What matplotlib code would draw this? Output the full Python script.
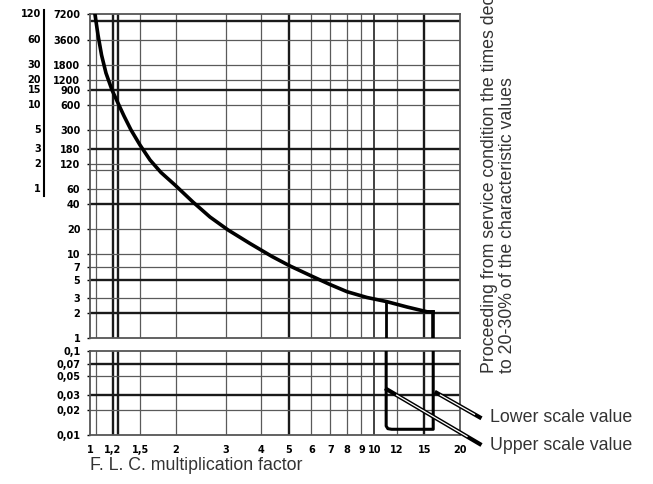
import numpy as np
import matplotlib
matplotlib.use("Agg")
import matplotlib.pyplot as plt

# multiplication factor ticks
x_ticks = [1, 1.2, 1.5, 2, 3, 4, 5, 6, 7, 8, 9, 10, 12, 15, 20]
x_tick_labels = ["1", "1,2", "1,5", "2", "3", "4", "5", "6", "7", "8", "9", "10", "12", "15", "20"]

# upper scale, seconds and minutes
sec_ticks = [7200, 3600, 1800, 1200, 900, 600, 300, 180, 120, 60, 40, 20, 10, 7, 5, 3, 2, 1]
min_ticks = [120, 60, 30, 20, 15, 10, 5, 3, 2, 1]
min_secs = [7200, 3600, 1800, 1200, 900, 600, 300, 180, 120, 60]

# lower scale
low_ticks = [0.1, 0.07, 0.05, 0.03, 0.02, 0.01]
low_tick_labels = ["0,1", "0,07", "0,05", "0,03", "0,02", "0,01"]

# grid lines
v_thin = [1.05, 1.5, 2, 3, 4, 6, 7, 8, 9, 12]
v_thick = [1.2, 1.25, 5, 15]
v_mid = [10]
h_up_thin = [3600, 1800, 1200, 600, 300, 120, 100, 60, 20, 10, 7, 3]
h_up_thick = [6000, 900, 180, 40, 5, 2]
h_low_thin = [0.05, 0.02]
h_low_thick = [0.07, 0.03]

# characteristic curve
curve_x = [1.041, 1.067, 1.098, 1.138, 1.195, 1.254, 1.317, 1.394, 1.499, 1.626,
           1.777, 1.99, 2.302, 2.642, 3.057, 3.652, 4.365, 5.05, 6.083, 6.98,
           8.01, 9.42, 11.07, 13.02, 15.31, 16.07]
curve_t = [7200, 4080, 2358, 1440, 904, 633, 443, 302, 200, 132.6,
           94.2, 66.8, 41.9, 27.8, 19.5, 13.45, 9.42, 7.26, 5.41, 4.37,
           3.59, 3.06, 2.73, 2.36, 2.07, 2.06]

# drop lines to the bottom of the upper scale
drop_x = [11.0, 16.1]
drop_t = [2.73, 2.06]
drop_w = [2.0, 2.6]

# lower scale path
low_x = [11.0, 11.0, 11.15, 11.5, 16.1, 16.1]
low_t = [0.1, 0.0128, 0.0119, 0.0117, 0.0117, 0.1]

# leader lines
lead_up_x = [10.9, 23.8]
lead_up_t = [0.036, 0.0076]
lead_lo_x = [16.3, 23.8]
lead_lo_t = [0.0327, 0.0158]

W, H = 653, 484
fig = plt.figure(figsize=(W / 100, H / 100), dpi=100)

def px_axes(x0, y0, x1, y1):
    return fig.add_axes([x0 / W, 1 - y1 / H, (x1 - x0) / W, (y1 - y0) / H])

ax = px_axes(90, 14.3, 460, 338.3)
ax2 = px_axes(90, 351, 460, 435)

grid_thin = dict(color="#5a5a5a", lw=0.9, zorder=1)
grid_thick = dict(color="#1a1a1a", lw=1.7, zorder=1)
grid_mid = dict(color="#333333", lw=1.3, zorder=1)

for a in (ax, ax2):
    a.set_xscale("log")
    a.set_yscale("log")
    a.set_xlim(1, 20)
    for v in v_thin:
        a.axvline(v, **grid_thin)
    for v in v_thick:
        a.axvline(v, **grid_thick)
    for v in v_mid:
        a.axvline(v, **grid_mid)
    for s in a.spines.values():
        s.set_color("#555555")
        s.set_linewidth(1.3)
    a.minorticks_off()
    a.tick_params(axis="y", length=2, width=1, pad=5, labelsize=7)
    a.tick_params(axis="x", length=0, pad=7, labelsize=7)

ax.set_ylim(1, 7200)
ax2.set_ylim(0.01, 0.1)

for h in h_up_thin:
    ax.axhline(h, **grid_thin)
for h in h_up_thick:
    ax.axhline(h, **grid_thick)
for h in h_low_thin:
    ax2.axhline(h, **grid_thin)
for h in h_low_thick:
    ax2.axhline(h, **grid_thick)

ax.set_yticks(sec_ticks)
ax.set_yticklabels([str(s) for s in sec_ticks], fontweight="bold")
ax.set_xticks([])

ax2.set_yticks(low_ticks)
ax2.set_yticklabels(low_tick_labels, fontweight="bold")
ax2.set_xticks(x_ticks)
ax2.set_xticklabels(x_tick_labels, fontweight="bold")

# minutes column
tr = ax.get_yaxis_transform()
for m, s in zip(min_ticks, min_secs):
    ax.text(-49 / 370, s, str(m), transform=tr, ha="right", va="center",
            fontsize=7, fontweight="bold", clip_on=False)
ax.plot([-46 / 370, -46 / 370], [8200, 50], transform=tr, color="black",
        lw=1.5, clip_on=False)

# curves
ax.plot(curve_x, curve_t, color="black", lw=2.6, solid_joinstyle="round", zorder=3)
for dx, dt, dw in zip(drop_x, drop_t, drop_w):
    ax.plot([dx, dx], [dt, 1], color="black", lw=dw, zorder=3)
ax2.plot(low_x, low_t, color="black", lw=2.2, zorder=3)

for lx, lt in ((lead_up_x, lead_up_t), (lead_lo_x, lead_lo_t)):
    ax2.plot(lx, lt, color="black", lw=3.0, zorder=4, clip_on=False,
             solid_capstyle="butt")
    lx_a, lt_a = np.log10(lx), np.log10(lt)
    f0, f1 = 0.12, 0.85
    ix = 10 ** (lx_a[0] + (lx_a[1] - lx_a[0]) * np.array([f0, f1]))
    it = 10 ** (lt_a[0] + (lt_a[1] - lt_a[0]) * np.array([f0, f1]))
    ax2.plot(ix, it, color="white", lw=0.9, zorder=5, clip_on=False)

txt = dict(family="Liberation Sans", color="#333333", fontsize=12.8)
fig.text(90 / W, 1 - 466 / H, "F. L. C. multiplication factor", ha="left",
         va="center", **txt)
fig.text(490 / W, 1 - 418 / H, "Lower scale value", ha="left", va="center", **txt)
fig.text(490 / W, 1 - 445 / H, "Upper scale value", ha="left", va="center", **txt)
fig.text(498.5 / W, 1 - 373 / H,
         "Proceeding from service condition the times decrease\n"
         "to 20-30% of the characteristic values",
         rotation=90, ha="center", va="bottom", multialignment="left",
         linespacing=1.12, **txt)

fig.savefig("out.png", dpi=100)
